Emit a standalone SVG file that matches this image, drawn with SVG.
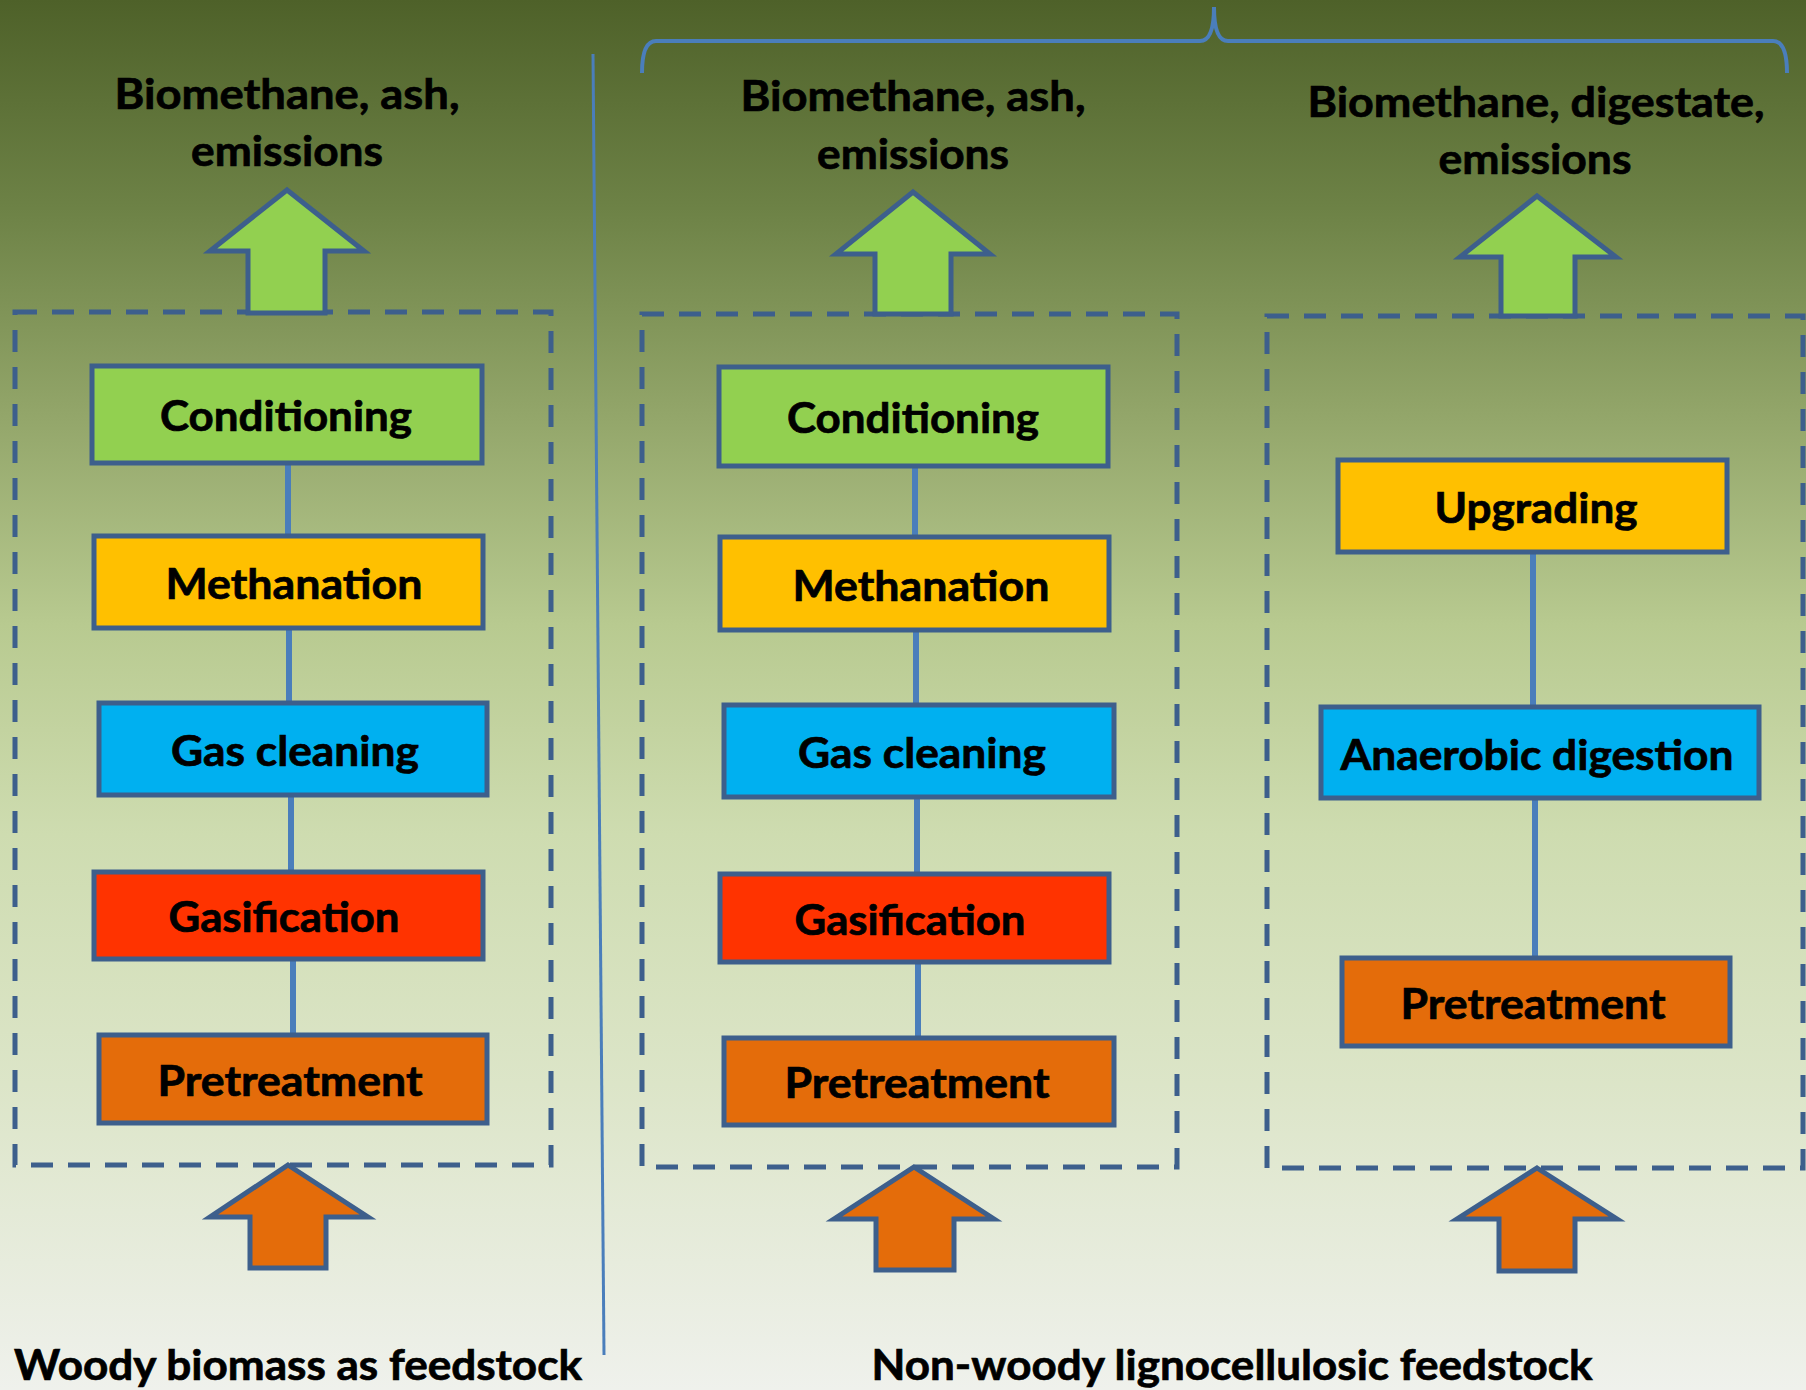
<svg xmlns="http://www.w3.org/2000/svg" width="1806" height="1390" viewBox="0 0 1806 1390">
<defs>
<linearGradient id="bg" x1="0" y1="0" x2="0" y2="1">
<stop offset="0" stop-color="#4e6129"/>
<stop offset="0.15" stop-color="#6d8246"/>
<stop offset="0.3" stop-color="#93a66a"/>
<stop offset="0.45" stop-color="#b8ca90"/>
<stop offset="0.6" stop-color="#cedcb0"/>
<stop offset="0.78" stop-color="#dce5c8"/>
<stop offset="1" stop-color="#eff1ec"/>
</linearGradient>
<style>
.t{font-family:Lato,"Open Sans","Liberation Sans",sans-serif;font-weight:bold;font-size:42px;fill:#000;stroke:#000;stroke-width:0.7;text-anchor:middle}
.box{stroke:#3d5f8c;stroke-width:5}
.dash{fill:none;stroke:#3d5f8c;stroke-width:5;stroke-dasharray:22 15}
.arr{stroke:#3d5f8c;stroke-width:5;stroke-linejoin:miter}
.g{fill:#92d050}.o{fill:#e46c0a}.y{fill:#ffc000}.b{fill:#00b0f0}.r{fill:#ff3300}
.con{stroke:#4a7ebb;stroke-width:6;fill:none}
</style>
</defs>
<rect x="0" y="0" width="1806" height="1390" fill="url(#bg)"/>

<g id="divider">
<line x1="593" y1="54" x2="604" y2="1355" stroke="#4a7ebb" stroke-width="3"/>
<path d="M642,73 Q642,41 656,41 L1200,41 Q1214,41 1214,7 Q1214,41 1228,41 L1773,41 Q1787,41 1787,73" fill="none" stroke="#4a7ebb" stroke-width="4"/>
</g>

<g id="frames">
<rect class="dash" x="15" y="312" width="536" height="853"/>
<rect class="dash" x="642" y="314" width="535" height="853"/>
<rect class="dash" x="1267" y="316" width="536" height="852"/>
</g>

<g id="connectors">
<line class="con" x1="288" y1="464" x2="288" y2="536"/>
<line class="con" x1="289" y1="628" x2="289" y2="703"/>
<line class="con" x1="291" y1="795" x2="291" y2="872"/>
<line class="con" x1="293" y1="959" x2="293" y2="1035"/>
<line class="con" x1="915" y1="466" x2="915" y2="537"/>
<line class="con" x1="916" y1="630" x2="916" y2="705"/>
<line class="con" x1="917" y1="797" x2="917" y2="874"/>
<line class="con" x1="918" y1="962" x2="918" y2="1038"/>
<line class="con" x1="1533" y1="552" x2="1533" y2="707"/>
<line class="con" x1="1535" y1="798" x2="1535" y2="958"/>
</g>

<g id="out1"><polygon class="arr g" points="287,190 364,251 325,251 325,313 248,313 248,251 210,251"/></g>
<g id="out2"><polygon class="arr g" points="913,192 990,254 951,254 951,314 875,314 875,254 836,254"/></g>
<g id="out3"><polygon class="arr g" points="1537,196 1616,257 1575,257 1575,316 1501,316 1501,257 1460,257"/></g>

<g id="in1"><polygon class="arr o" points="288,1165 368,1217 326,1217 326,1268 250,1268 250,1217 210,1217"/></g>
<g id="in2"><polygon class="arr o" points="914,1167 994,1219 954,1219 954,1270 876,1270 876,1219 834,1219"/></g>
<g id="in3"><polygon class="arr o" points="1537,1168 1617,1219 1575,1219 1575,1271 1499,1271 1499,1219 1457,1219"/></g>

<g id="label-out1">
<text class="t" x="287" y="109" textLength="345" lengthAdjust="spacingAndGlyphs">Biomethane, ash,</text>
<text class="t" x="287" y="166" textLength="192" lengthAdjust="spacingAndGlyphs">emissions</text>
</g>
<g id="label-out2">
<text class="t" x="913" y="111" textLength="345" lengthAdjust="spacingAndGlyphs">Biomethane, ash,</text>
<text class="t" x="913" y="169" textLength="192" lengthAdjust="spacingAndGlyphs">emissions</text>
</g>
<g id="label-out3">
<text class="t" x="1536" y="117" textLength="457" lengthAdjust="spacingAndGlyphs">Biomethane, digestate,</text>
<text class="t" x="1535" y="174" textLength="193" lengthAdjust="spacingAndGlyphs">emissions</text>
</g>

<g id="c1-conditioning"><rect class="box g" x="92" y="366" width="390" height="97"/><text class="t" x="286" y="431" textLength="252" lengthAdjust="spacingAndGlyphs">Conditioning</text></g>
<g id="c1-methanation"><rect class="box y" x="94" y="536" width="389" height="92"/><text class="t" x="294" y="599" textLength="257" lengthAdjust="spacingAndGlyphs">Methanation</text></g>
<g id="c1-gascleaning"><rect class="box b" x="99" y="703" width="388" height="92"/><text class="t" x="295" y="766" textLength="248" lengthAdjust="spacingAndGlyphs">Gas cleaning</text></g>
<g id="c1-gasification"><rect class="box r" x="94" y="872" width="389" height="87"/><text class="t" x="284" y="932" textLength="231" lengthAdjust="spacingAndGlyphs">Gasification</text></g>
<g id="c1-pretreatment"><rect class="box o" x="99" y="1035" width="388" height="88"/><text class="t" x="290" y="1096" textLength="265" lengthAdjust="spacingAndGlyphs">Pretreatment</text></g>

<g id="c2-conditioning"><rect class="box g" x="719" y="367" width="389" height="99"/><text class="t" x="913" y="433" textLength="252" lengthAdjust="spacingAndGlyphs">Conditioning</text></g>
<g id="c2-methanation"><rect class="box y" x="720" y="537" width="389" height="93"/><text class="t" x="921" y="601" textLength="257" lengthAdjust="spacingAndGlyphs">Methanation</text></g>
<g id="c2-gascleaning"><rect class="box b" x="724" y="705" width="390" height="92"/><text class="t" x="922" y="768" textLength="248" lengthAdjust="spacingAndGlyphs">Gas cleaning</text></g>
<g id="c2-gasification"><rect class="box r" x="720" y="874" width="389" height="88"/><text class="t" x="910" y="935" textLength="231" lengthAdjust="spacingAndGlyphs">Gasification</text></g>
<g id="c2-pretreatment"><rect class="box o" x="724" y="1038" width="390" height="87"/><text class="t" x="917" y="1098" textLength="265" lengthAdjust="spacingAndGlyphs">Pretreatment</text></g>

<g id="c3-upgrading"><rect class="box y" x="1338" y="460" width="389" height="92"/><text class="t" x="1536" y="523" textLength="203" lengthAdjust="spacingAndGlyphs">Upgrading</text></g>
<g id="c3-anaerobic"><rect class="box b" x="1321" y="707" width="438" height="91"/><text class="t" x="1537" y="770" textLength="393" lengthAdjust="spacingAndGlyphs">Anaerobic digestion</text></g>
<g id="c3-pretreatment"><rect class="box o" x="1342" y="958" width="388" height="88"/><text class="t" x="1533" y="1019" textLength="265" lengthAdjust="spacingAndGlyphs">Pretreatment</text></g>

<g id="footer">
<text class="t" x="298" y="1380" textLength="568" lengthAdjust="spacingAndGlyphs">Woody biomass as feedstock</text>
<text class="t" x="1232" y="1380" textLength="721" lengthAdjust="spacingAndGlyphs">Non-woody lignocellulosic feedstock</text>
</g>
</svg>
